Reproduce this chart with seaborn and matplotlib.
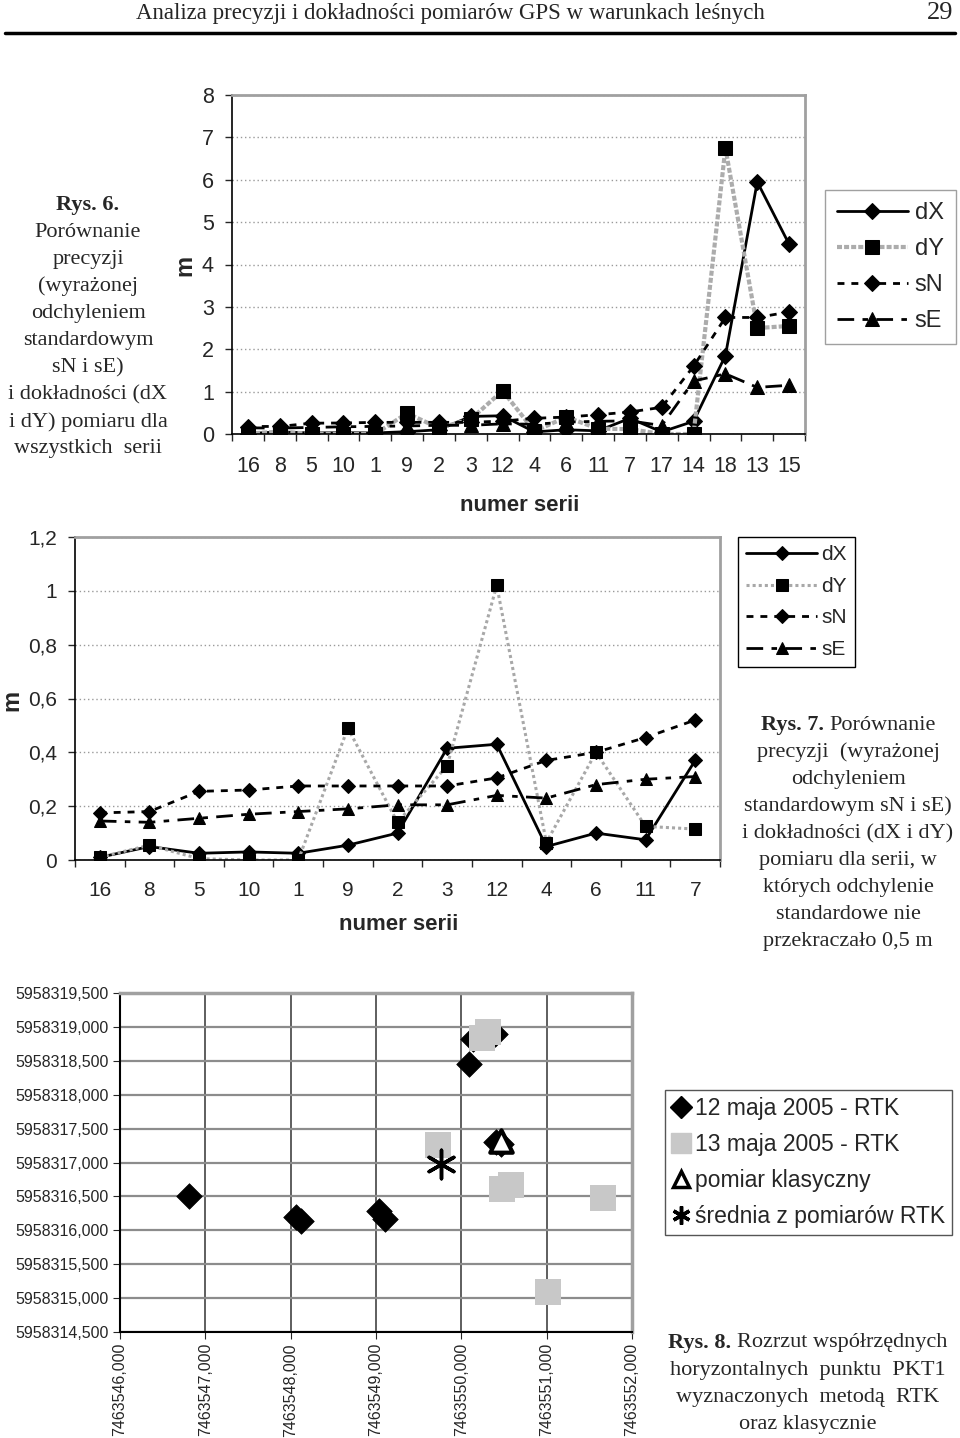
import numpy as np
import pandas as pd
import matplotlib
matplotlib.use("Agg")
import matplotlib.pyplot as plt
import seaborn as sns
from matplotlib.lines import Line2D
from matplotlib.ticker import FuncFormatter, MultipleLocator

W, H = 960, 1438

# --- data: Rys. 6 / Rys. 7 (all series, series 17..15 only in Rys. 6) ---
series = ["16", "8", "5", "10", "1", "9", "2", "3", "12", "4", "6", "11", "7",
          "17", "14", "18", "13", "15"]
dX = [0.01, 0.05, 0.025, 0.03, 0.025, 0.055, 0.10, 0.415, 0.43, 0.05, 0.10, 0.075, 0.37,
      0.05, 0.30, 1.85, 5.95, 4.48]
dY = [0.01, 0.055, 0.005, 0.0, 0.0, 0.49, 0.14, 0.35, 1.02, 0.065, 0.40, 0.125, 0.115,
      0.0, 0.0, 6.75, 2.50, 2.55]
sN = [0.175, 0.18, 0.255, 0.26, 0.275, 0.275, 0.275, 0.275, 0.305, 0.37, 0.40, 0.455, 0.52,
      0.63, 1.60, 2.75, 2.75, 2.88]
sE = [0.145, 0.14, 0.155, 0.17, 0.18, 0.19, 0.205, 0.205, 0.24, 0.23, 0.28, 0.30, 0.31,
      0.20, 1.25, 1.42, 1.10, 1.15]
n_small = 13  # series with sd below 0.5 m (Rys. 7)

# --- data: Rys. 8 (coordinates of PKT1) ---
rtk12_x = [7463546.81, 7463548.06, 7463548.12, 7463549.03, 7463549.10,
           7463550.09, 7463550.14, 7463550.40, 7463550.41, 7463550.47]
rtk12_y = [5958316.50, 5958316.20, 5958316.14, 5958316.29, 5958316.17,
           5958318.46, 5958318.82, 5958318.90, 5958317.30, 5958317.28]
rtk13_x = [7463550.24, 7463550.31, 7463549.73, 7463550.48, 7463550.58,
           7463551.66, 7463551.01]
rtk13_y = [5958318.83, 5958318.92, 5958317.26, 5958316.61, 5958316.67,
           5958316.47, 5958315.09]
klas_x, klas_y = [7463550.47], [5958317.32]
mean_x, mean_y = [7463549.76], [5958316.98]

sns.set_style("white")
plt.rcParams["font.family"] = ["Liberation Sans", "DejaVu Sans"]

fig = plt.figure(figsize=(W / 100, H / 100), dpi=100)


def fbox(x0, y0, x1, y1):
    return [x0 / W, 1 - y1 / H, (x1 - x0) / W, (y1 - y0) / H]


def comma(v, pos=None):
    s = f"{v:.1f}".rstrip("0").rstrip(".")
    return s.replace(".", ",")


def line_chart(ax, n, msize, dy_style, tick_size, xpad):
    pos = np.arange(n)
    kw = dict(ax=ax, markeredgecolor="black", markerfacecolor="black")
    sns.lineplot(x=pos, y=dX[:n], color="black", lw=2, marker="D", markersize=msize * 0.85,
                 label="dX", **kw)
    sns.lineplot(x=pos, y=dY[:n], color=dy_style[0], lw=dy_style[1], linestyle=dy_style[2],
                 marker="s", markersize=msize, label="dY", **kw)
    sns.lineplot(x=pos, y=sN[:n], color="black", lw=2, linestyle=(0, (2.5, 2.5)), marker="D",
                 markersize=msize * 0.85, label="sN", **kw)
    sns.lineplot(x=pos, y=sE[:n], color="black", lw=2, linestyle=(0, (6, 3, 2, 3)), marker="^",
                 markersize=msize, label="sE", **kw)
    ax.set_xlim(-0.5, n - 0.5)
    ax.set_xticks(pos)
    ax.set_xticklabels(series[:n], fontsize=tick_size)
    ax.xaxis.set_minor_locator(MultipleLocator(1, offset=0.5))
    ax.tick_params(axis="x", which="major", length=0, pad=xpad)
    ax.tick_params(axis="x", which="minor", length=5, width=1, direction="out", bottom=True)
    ax.tick_params(axis="y", length=5, width=1, direction="out", left=True, labelsize=tick_size,
                   pad=8)
    ax.grid(axis="y", color="#9a9a9a", lw=1, linestyle=(0, (1, 2)))
    ax.set_axisbelow(True)
    for side in ["left", "bottom"]:
        ax.spines[side].set_color("black")
        ax.spines[side].set_linewidth(1.2)
    for side in ["top", "right"]:
        ax.spines[side].set_color("#a0a0a0")
        ax.spines[side].set_linewidth(2)
    ax.set_xlabel("")
    ax.set_ylabel("")


# ---------------- Rys. 6 ----------------
ax1 = fig.add_axes(fbox(232, 95, 805, 434))
line_chart(ax1, len(series), 9.5, ("#acacac", 3, (0, (1.2, 0.5))), 15.5, 16)
ax1.set_ylim(0, 8)
ax1.set_yticks(range(0, 9))
ax1.legend(loc="upper left", bbox_to_anchor=(825 / W, 1 - 190 / H), bbox_transform=fig.transFigure,
           fontsize=17, frameon=True, fancybox=False, edgecolor="#a0a0a0", framealpha=1,
           handlelength=3.0, handletextpad=0.3, labelspacing=0.6, borderpad=0.5,
           borderaxespad=0)
fig.text(185 / W, 1 - 265 / H, "m", rotation=90, fontsize=17, fontweight="bold",
         ha="center", va="center")
fig.text(520 / W, 1 - 505 / H, "numer serii", fontsize=16, fontweight="bold",
         ha="center", va="center")

# ---------------- Rys. 7 ----------------
ax2 = fig.add_axes(fbox(75, 537, 720, 860))
line_chart(ax2, n_small, 8.5, ("#a8a8a8", 2.2, (0, (1, 1))), 15, 15)
ax2.set_ylim(0, 1.2)
ax2.set_yticks(np.arange(0, 1.21, 0.2))
ax2.yaxis.set_major_formatter(FuncFormatter(comma))
ax2.legend(loc="upper left", bbox_to_anchor=(738 / W, 1 - 537 / H), bbox_transform=fig.transFigure,
           fontsize=15, frameon=True, fancybox=False, edgecolor="black", framealpha=1,
           handlelength=3.4, handletextpad=0.2, labelspacing=0.6, borderpad=0.4,
           borderaxespad=0)
fig.text(12 / W, 1 - 700 / H, "m", rotation=90, fontsize=17, fontweight="bold",
         ha="center", va="center")
fig.text(399 / W, 1 - 925 / H, "numer serii", fontsize=16, fontweight="bold",
         ha="center", va="center")

# ---------------- Rys. 8 ----------------
ax3 = fig.add_axes(fbox(120, 993, 632, 1332))
sns.scatterplot(x=rtk12_x, y=rtk12_y, ax=ax3, marker="D", color="black", s=170,
                edgecolor="black", linewidth=0.5, zorder=3)
sns.scatterplot(x=rtk13_x, y=rtk13_y, ax=ax3, marker="s", color="#c8c8c8", s=330,
                edgecolor="#c8c8c8", linewidth=0, zorder=4)
sns.scatterplot(x=klas_x, y=klas_y, ax=ax3, marker="^", facecolor="white", s=260,
                edgecolor="black", linewidth=3, zorder=5)
sns.scatterplot(x=mean_x, y=mean_y, ax=ax3, marker=(6, 2, 0), color="black", s=420,
                linewidth=2.5, zorder=5)
ax3.set_xlim(7463546, 7463552)
ax3.set_ylim(5958314.5, 5958319.5)
ax3.set_xticks(np.arange(7463546, 7463552.5, 1.0))
ax3.set_yticks(np.arange(5958314.5, 5958319.6, 0.5))
coord_fmt = FuncFormatter(lambda v, p: f"{v:.3f}".replace(".", ","))
ax3.xaxis.set_major_formatter(coord_fmt)
ax3.yaxis.set_major_formatter(coord_fmt)
ax3.tick_params(axis="x", rotation=90, labelsize=11.5, length=5, direction="out", bottom=True, pad=3)
ax3.tick_params(axis="y", labelsize=11.5, length=5, direction="out", left=True, pad=3)
ax3.grid(axis="y", color="#8c8c8c", lw=1.6)
ax3.grid(axis="x", color="#333333", lw=1.1)
ax3.set_axisbelow(True)
for side in ["left", "bottom"]:
    ax3.spines[side].set_color("black")
    ax3.spines[side].set_linewidth(1.5)
for side in ["top", "right"]:
    ax3.spines[side].set_color("#a0a0a0")
    ax3.spines[side].set_linewidth(2.5)
h8 = [
    Line2D([], [], ls="", marker="D", color="black", markersize=11),
    Line2D([], [], ls="", marker="s", color="#c8c8c8", markersize=15),
    Line2D([], [], ls="", marker="^", markerfacecolor="white", markeredgecolor="black",
           markeredgewidth=2.5, markersize=12),
    Line2D([], [], ls="", marker=(6, 2, 0), color="black", markeredgewidth=2.5, markersize=13),
]
l8 = ["12 maja 2005 - RTK", "13 maja 2005 - RTK", "pomiar klasyczny", "średnia z pomiarów RTK"]
ax3.legend(h8, l8, loc="upper left", bbox_to_anchor=(665 / W, 1 - 1090 / H),
           bbox_transform=fig.transFigure, fontsize=16.5, frameon=True, fancybox=False,
           edgecolor="#555555", framealpha=1, handlelength=0.8, handletextpad=0.2,
           labelspacing=0.57, borderpad=0.3, borderaxespad=0)

# ---------------- page text ----------------
serif = ["Liberation Serif", "DejaVu Serif"]
fig.text(450 / W, 1 - 13 / H, "Analiza precyzji i dokładności pomiarów GPS w warunkach leśnych",
         family=serif, fontsize=16.5, ha="center", va="center")
fig.text(940 / W, 1 - 13 / H, "29", family=serif, fontsize=19, ha="center", va="center")
fig.add_artist(Line2D([5 / W, 955 / W], [1 - 33 / H, 1 - 33 / H], color="black", lw=2.5))

renderer = fig.canvas.get_renderer()


def caption(cx, y0, step, bold, lines, size=16):
    # first line: bold figure number followed by normal text
    first = lines[0]
    tb = fig.text(0, 0, bold, family=serif, fontsize=size, fontweight="bold", va="center")
    wb = tb.get_window_extent(renderer).width
    gap = size * 0.35 if first else 0
    tn = fig.text(0, 0, first, family=serif, fontsize=size, va="center")
    wn = tn.get_window_extent(renderer).width if first else 0
    x0 = cx - (wb + gap + wn) / 2
    tb.set_position((x0 / W, 1 - y0 / H))
    tn.set_position(((x0 + wb + gap) / W, 1 - y0 / H))
    for i, txt in enumerate(lines[1:], start=1):
        fig.text(cx / W, 1 - (y0 + i * step) / H, txt, family=serif, fontsize=size,
                 ha="center", va="center")


caption(88, 205, 27.1, "Rys. 6.",
        ["", "Porównanie", "precyzji", "(wyrażonej", "odchyleniem", "standardowym",
         "sN i sE)", "i dokładności (dX", "i dY) pomiaru dla", "wszystkich  serii"])
caption(848, 725, 27.1, "Rys. 7.",
        ["Porównanie", "precyzji  (wyrażonej", "odchyleniem", "standardowym sN i sE)",
         "i dokładności (dX i dY)", "pomiaru dla serii, w", "których odchylenie",
         "standardowe nie", "przekraczało 0,5 m"])
caption(808, 1343, 27.1, "Rys. 8.",
        ["Rozrzut współrzędnych", "horyzontalnych  punktu  PKT1",
         "wyznaczonych  metodą  RTK", "oraz klasycznie"])

fig.savefig("out.png", dpi=100)
